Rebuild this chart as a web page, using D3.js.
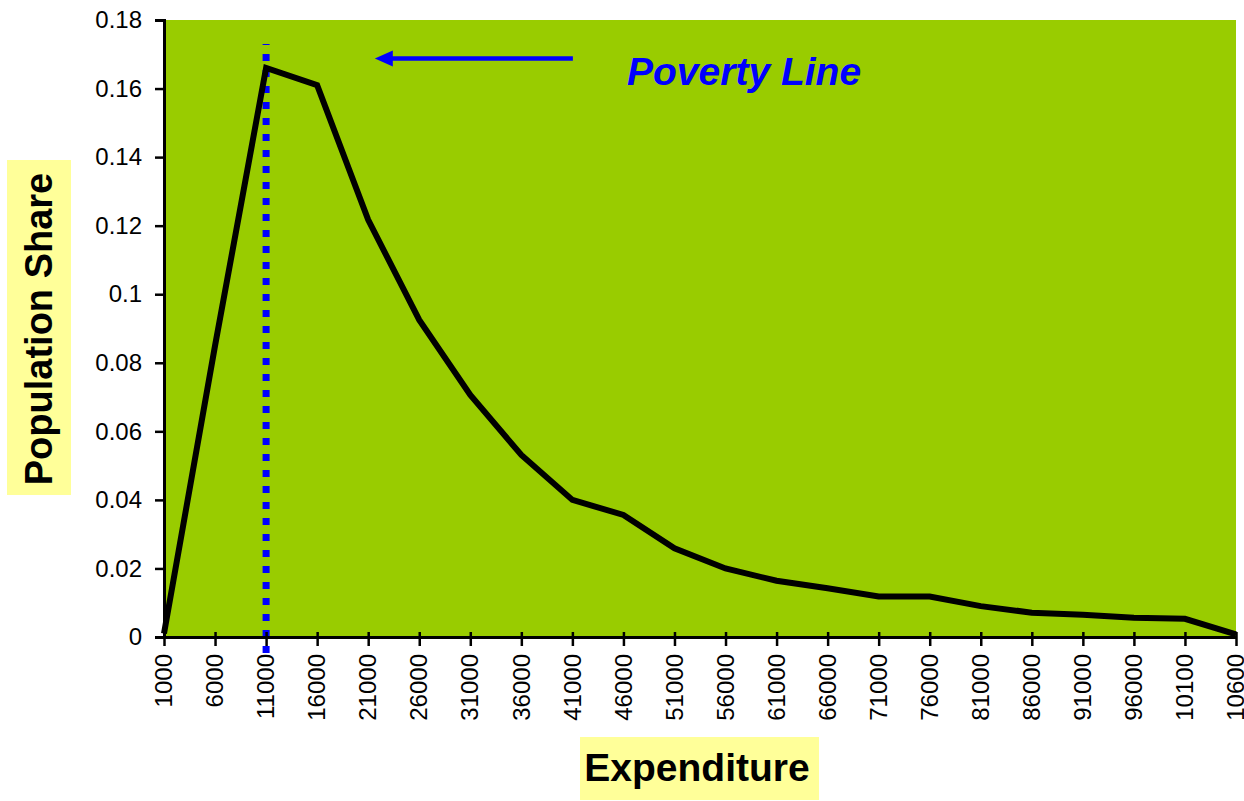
<!DOCTYPE html>
<html>
<head>
<meta charset="utf-8">
<script src="https://cdn.jsdelivr.net/npm/d3@7"></script>
<style>
    body { margin: 0; background: #ffffff; }
    svg text { font-family: Arial, "Liberation Sans", sans-serif; }
</style>
</head>
<body>
<div id="chart"></div>
<script>
// Expenditure categories (as printed on the axis)
const categories = ["1000", "6000", "11000", "16000", "21000", "26000", "31000", "36000",
    "41000", "46000", "51000", "56000", "61000", "66000", "71000", "76000",
    "81000", "86000", "91000", "96000", "10100", "10600"];
// Population share for each category
const shares = [0.001, 0.085, 0.166, 0.161, 0.1217, 0.0925, 0.0706, 0.0531,
    0.040, 0.0356, 0.0259, 0.0200, 0.0164, 0.0142, 0.0118, 0.0118,
    0.0090, 0.0071, 0.0065, 0.0056, 0.0053, 0.0008];
const yTicks = [0, 0.02, 0.04, 0.06, 0.08, 0.1, 0.12, 0.14, 0.16, 0.18];

// Poverty line sits on this category
const povertyCategory = "11000";
const povertyTop = 0.173;

const data = categories.map((c, i) => ({ cat: c, value: shares[i] }));

// Set chart dimensions
const width = 1244;
const height = 801;
const margin = { top: 20, right: 8, bottom: 164, left: 164 };
const w = width - margin.left - margin.right;
const h = height - margin.top - margin.bottom;

const svg = d3.select("#chart")
    .append("svg")
    .attr("width", width)
    .attr("height", height);

const g = svg.append("g")
    .attr("transform", "translate(" + margin.left + "," + margin.top + ")");

// Scales
const x = d3.scalePoint()
    .domain(data.map(d => d.cat))
    .range([0, w]);

const y = d3.scaleLinear()
    .domain([0, 0.18])
    .range([h, 0]);

// Plot area background
g.append("rect")
    .attr("width", w)
    .attr("height", h)
    .attr("fill", "#99CC00");

// Poverty line (blue dotted)
g.append("line")
    .attr("x1", x(povertyCategory))
    .attr("x2", x(povertyCategory))
    .attr("y1", y(0) + 16)
    .attr("y2", y(povertyTop))
    .attr("stroke", "#0000FF")
    .attr("stroke-width", 7)
    .attr("stroke-dasharray", "7,9");

// Distribution line
const line = d3.line()
    .x(d => x(d.cat))
    .y(d => y(d.value));

g.append("path")
    .datum(data)
    .attr("d", line)
    .attr("fill", "none")
    .attr("stroke", "#000000")
    .attr("stroke-width", 6)
    .attr("stroke-linejoin", "miter");

// Y axis
const yAxis = g.append("g")
    .call(d3.axisLeft(y).tickValues(yTicks).tickSize(9).tickPadding(13)
        .tickFormat(d => d3.format("")(+d.toFixed(2))));
yAxis.selectAll("line").attr("stroke", "#000").attr("stroke-width", 2.5).attr("x2", -9).attr("x1", 2);
yAxis.select(".domain").attr("stroke", "#000").attr("stroke-width", 3);
yAxis.selectAll("text")
    .style("font-size", "24px")
    .attr("fill", "#000");

// X axis
const xAxis = g.append("g")
    .attr("transform", "translate(0," + h + ")")
    .call(d3.axisBottom(x).tickSize(9).tickSizeOuter(0));
xAxis.selectAll("line").attr("stroke", "#000").attr("stroke-width", 2.5).attr("y1", -5);
xAxis.select(".domain").attr("stroke", "#000").attr("stroke-width", 3);
xAxis.selectAll("text")
    .style("font-size", "24px")
    .attr("fill", "#000")
    .attr("text-anchor", "end")
    .attr("transform", "rotate(-90)")
    .attr("x", -17)
    .attr("y", 0)
    .attr("dy", "0.32em");

// Arrow pointing to the poverty line
const idx = d3.scaleLinear().domain([0, data.length - 1]).range([0, w]);
const arrowY = y(0.1688);
const tip = idx(4.13);
g.append("line")
    .attr("x1", idx(8.01))
    .attr("x2", tip + 14)
    .attr("y1", arrowY)
    .attr("y2", arrowY)
    .attr("stroke", "#0000FF")
    .attr("stroke-width", 4.5);
g.append("path")
    .attr("d", d3.line()([[tip, arrowY], [tip + 18, arrowY - 8], [tip + 18, arrowY + 8]]) + "Z")
    .attr("fill", "#0000FF");

g.append("text")
    .attr("x", idx(9.07))
    .attr("y", y(0.161))
    .style("font-size", "39px")
    .style("font-weight", "bold")
    .style("font-style", "italic")
    .attr("fill", "#0000FF")
    .text("Poverty Line");

// Axis titles on yellow boxes
svg.append("rect")
    .attr("x", 580).attr("y", 737)
    .attr("width", 239).attr("height", 63)
    .attr("fill", "#FFFF99");
svg.append("text")
    .attr("x", 697)
    .attr("y", 781)
    .attr("text-anchor", "middle")
    .style("font-size", "39px")
    .style("font-weight", "bold")
    .attr("fill", "#000")
    .text("Expenditure");

svg.append("rect")
    .attr("x", 7).attr("y", 160)
    .attr("width", 64).attr("height", 335)
    .attr("fill", "#FFFF99");
svg.append("text")
    .attr("transform", "translate(52,329) rotate(-90)")
    .attr("text-anchor", "middle")
    .style("font-size", "38px")
    .style("font-weight", "bold")
    .attr("fill", "#000")
    .text("Population Share");
</script>
</body>
</html>
